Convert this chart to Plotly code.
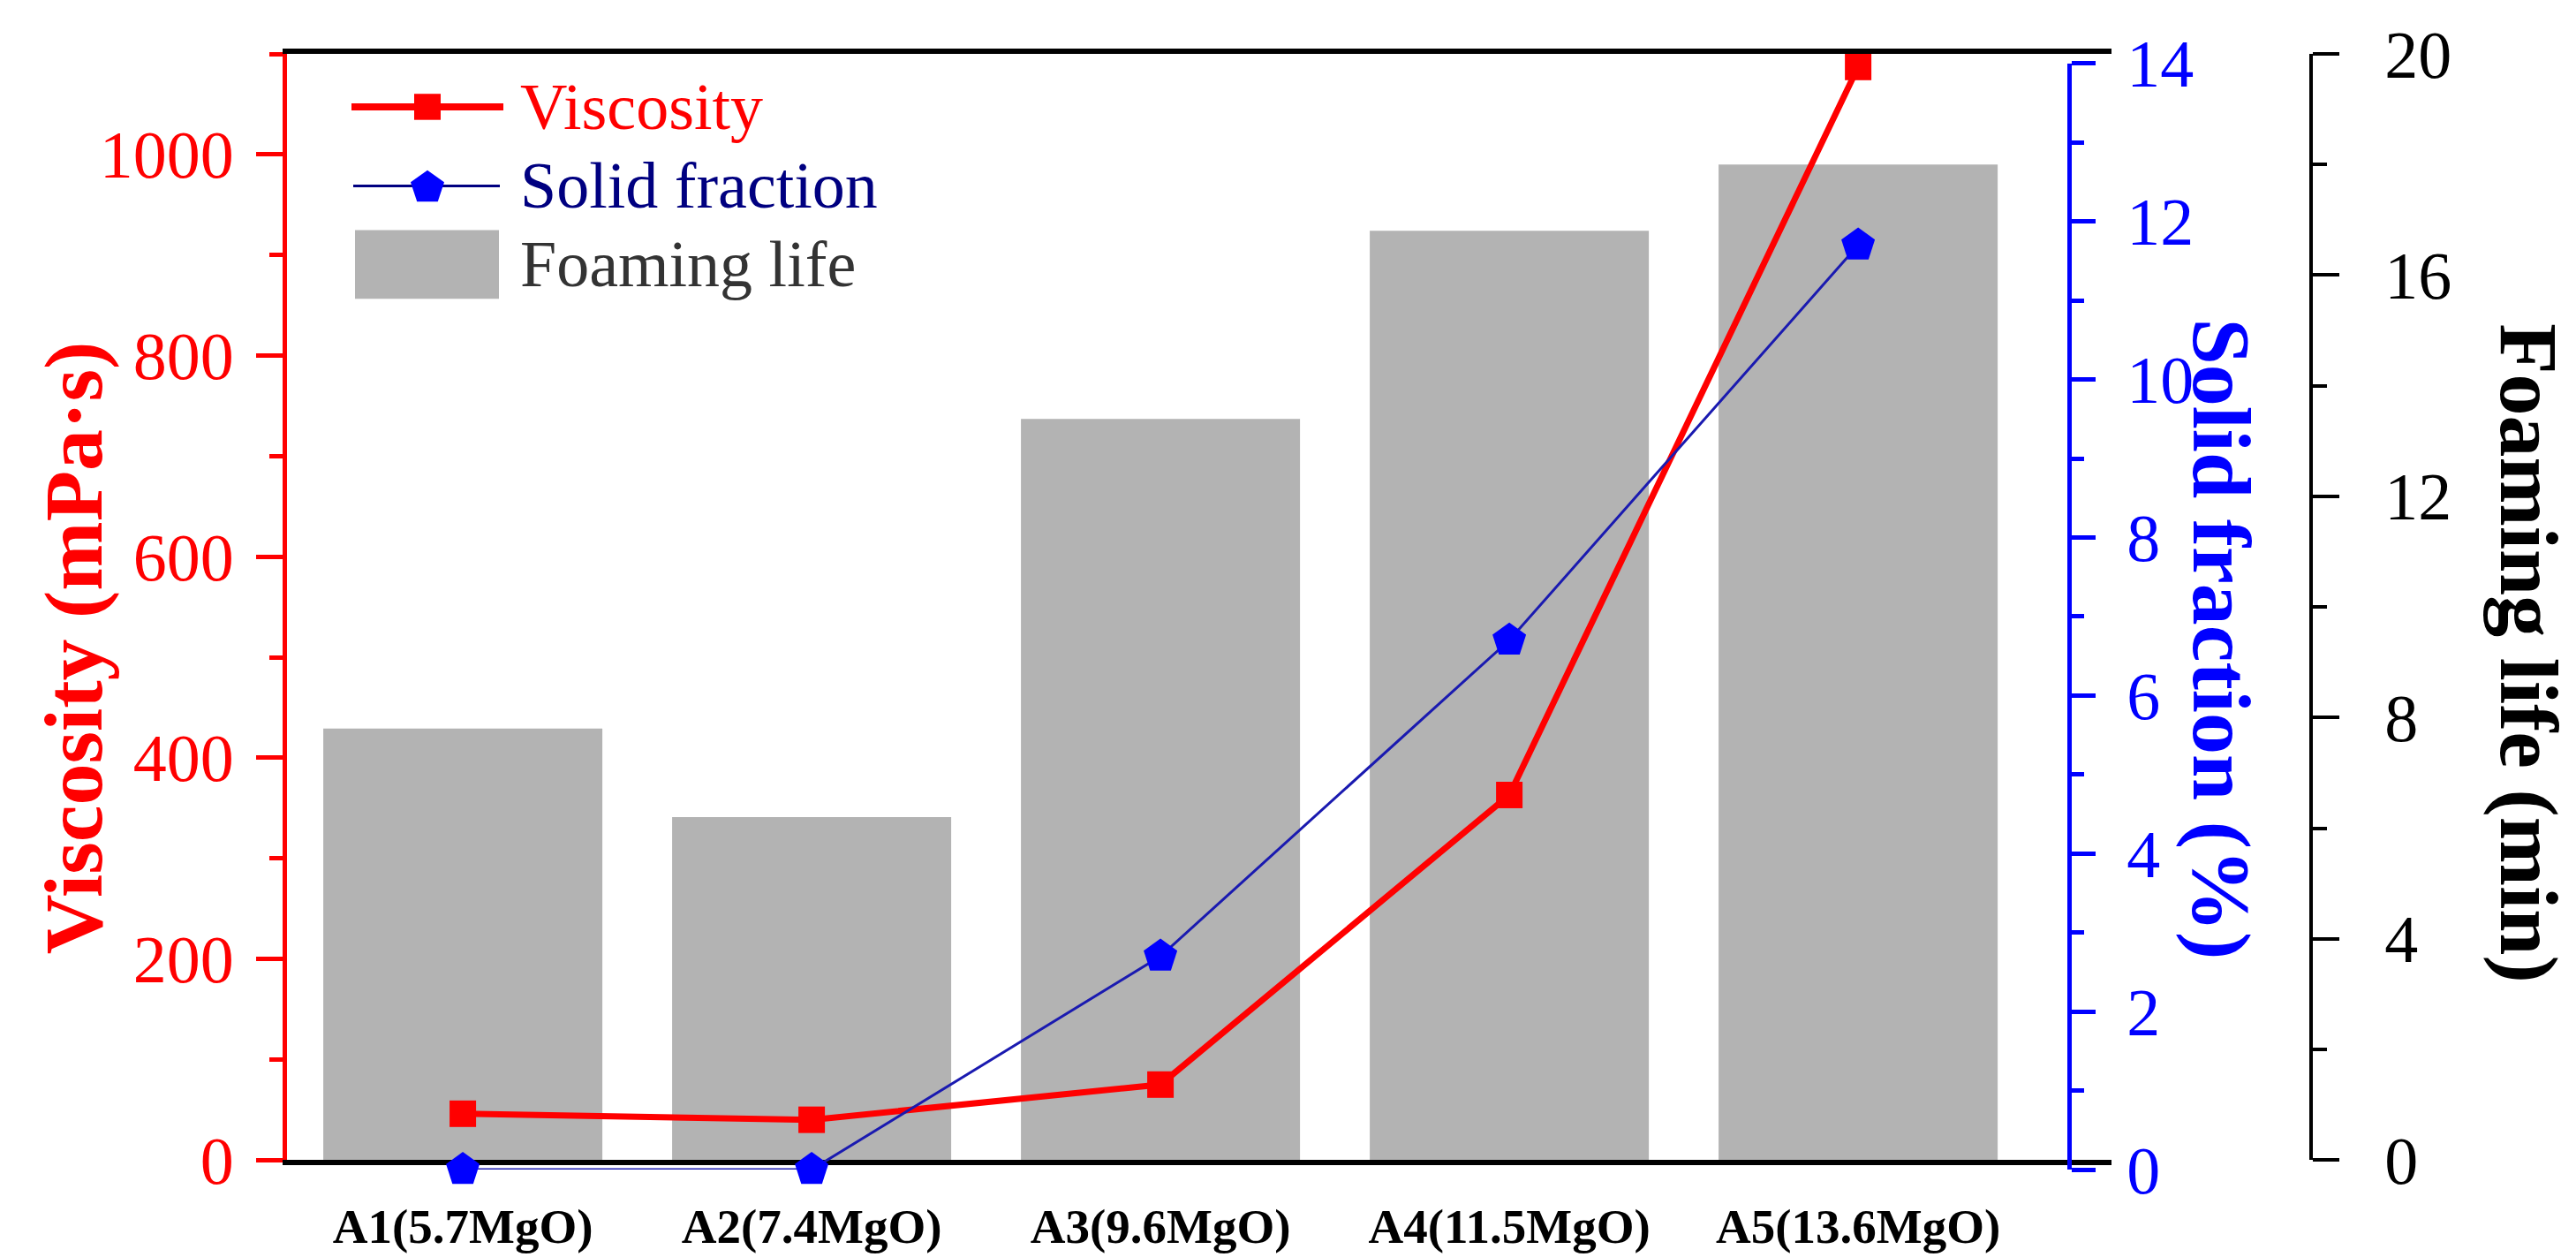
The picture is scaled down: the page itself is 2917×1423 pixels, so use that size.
import math
import plotly.graph_objects as go

# ---------------- data ----------------
categories = ["A1(5.7MgO)", "A2(7.4MgO)", "A3(9.6MgO)", "A4(11.5MgO)", "A5(13.6MgO)"]
viscosity = [46, 40, 75, 363, 1087]          # mPa·s
solid_fraction = [0, 0, 2.7, 6.7, 11.7]       # %
foaming_life = [7.8, 6.2, 13.4, 16.8, 18.0]   # min

# ---------------- layout constants (pixels) ----------------
W, H = 2917, 1423
L, R, T, B = 317, 2609, 49, 1334      # plot-area bounds
X_AXIS_END = 2335                     # position of the solid-fraction axis
X_LINE_END = 2383                     # black frame lines run slightly past it
CAT_STEP = 395.7                      # pixels per category
FONT = "Liberation Serif, Times New Roman, serif"


def px(x):
    return (x - L) / (R - L)


def py(y):
    return (B - y) / (B - T)


idx = list(range(len(categories)))
x_min = -0.504
x_max = 4.605 + (X_LINE_END - X_AXIS_END) / CAT_STEP

fig = go.Figure()
fig.add_trace(go.Bar(
    x=idx, y=foaming_life, width=0.8, name="Foaming life",
    marker=dict(color="#b3b3b3", line=dict(width=0)),
    xaxis="x", yaxis="y", showlegend=False))
fig.add_trace(go.Scatter(
    x=idx, y=viscosity, name="Viscosity", mode="lines+markers",
    line=dict(color="#ff0000", width=7),
    marker=dict(symbol="square", size=30, color="#ff0000"),
    xaxis="x", yaxis="y2", cliponaxis=False, showlegend=False))
fig.add_trace(go.Scatter(
    x=idx, y=solid_fraction, name="Solid fraction", mode="lines+markers",
    line=dict(color="#1a1ab0", width=3),
    marker=dict(symbol="pentagon", size=40, color="#0000ff"),
    xaxis="x", yaxis="y3", cliponaxis=False, showlegend=False))

fig.update_layout(
    width=W, height=H,
    margin=dict(l=L, r=W - R, t=T, b=H - B, pad=0),
    paper_bgcolor="white", plot_bgcolor="rgba(0,0,0,0)",
    font=dict(family=FONT),
    showlegend=False,
    xaxis=dict(
        domain=[0, px(X_LINE_END)], range=[x_min, x_max],
        tickvals=idx, ticktext=categories,
        showline=True, linecolor="black", linewidth=6, mirror=True,
        ticks="", showgrid=False, zeroline=False, anchor="y",
        tickfont=dict(family=FONT, size=55, color="black", weight="bold"),
        ticklabelstandoff=22),
    yaxis=dict(
        domain=[py(1323), 1], range=[0, 20],
        side="right", anchor="free", position=1.0,
        showline=True, linecolor="black", linewidth=4,
        ticks="outside", ticklen=30, tickwidth=4, tickcolor="black",
        tick0=0, dtick=4,
        minor=dict(ticks="outside", ticklen=16, tickwidth=4,
                   tickcolor="black", tick0=0, dtick=2),
        tickfont=dict(family=FONT, size=76, color="black"),
        showgrid=False, zeroline=False, ticklabelstandoff=36),
    yaxis2=dict(
        overlaying="y", side="left", anchor="x", range=[0, 1100],
        showline=True, linecolor="#ff0000", linewidth=5,
        ticks="outside", ticklen=30, tickwidth=5, tickcolor="#ff0000",
        tick0=0, dtick=200,
        minor=dict(ticks="outside", ticklen=15, tickwidth=5,
                   tickcolor="#ff0000", tick0=0, dtick=100),
        tickfont=dict(family=FONT, size=76, color="#ff0000"),
        showgrid=False, zeroline=False, ticklabelstandoff=10),
    yaxis3=dict(
        domain=[0, py(60)], range=[0, 14],
        anchor="free", position=px(X_AXIS_END), side="right",
        showline=True, linecolor="#0000ff", linewidth=5,
        ticks="outside", ticklen=27, tickwidth=5, tickcolor="#0000ff",
        tick0=0, dtick=2,
        minor=dict(ticks="outside", ticklen=14, tickwidth=5,
                   tickcolor="#0000ff", tick0=0, dtick=1),
        tickfont=dict(family=FONT, size=76, color="#0000ff"),
        showgrid=False, zeroline=False, ticklabelstandoff=20),
)

# ---------------- axis titles ----------------
annotations = [
    dict(text="Viscosity (mPa·s)", x=px(75), y=py(733), textangle=-90,
         font=dict(family=FONT, size=94, color="#ff0000", weight="bold")),
    dict(text="Solid fraction (%)", x=px(2508), y=py(723), textangle=90,
         font=dict(family=FONT, size=94, color="#0000ff", weight="bold")),
    dict(text="Foaming life (min)", x=px(2856), y=py(739), textangle=90,
         font=dict(family=FONT, size=94, color="black", weight="bold")),
]
for a in annotations:
    a.update(xref="paper", yref="paper", showarrow=False,
             xanchor="center", yanchor="middle")

# ---------------- legend (drawn) ----------------
LX, LY = -6, -6   # small offset for the whole legend block
leg_rows = [116, 207, 297]
leg_labels = ["Viscosity", "Solid fraction", "Foaming life"]
leg_colors = ["#ff0000", "#000080", "#333333"]
for yy, lab, col in zip(leg_rows, leg_labels, leg_colors):
    annotations.append(dict(
        text=lab, x=px(585 + LX), y=py(yy + LY), xref="paper", yref="paper",
        showarrow=False, xanchor="left", yanchor="middle",
        font=dict(family=FONT, size=74, color=col)))

shapes = []
# viscosity: line + square
shapes.append(dict(type="line", xref="paper", yref="paper",
                   x0=px(396 + LX), x1=px(568 + LX),
                   y0=py(116 + LY), y1=py(116 + LY),
                   line=dict(color="#ff0000", width=8)))
shapes.append(dict(type="rect", xref="paper", yref="paper",
                   x0=px(467 + LX), x1=px(497 + LX),
                   y0=py(131 + LY), y1=py(101 + LY),
                   fillcolor="#ff0000", line=dict(width=0)))
# solid fraction: line + pentagon
shapes.append(dict(type="line", xref="paper", yref="paper",
                   x0=px(398 + LX), x1=px(564 + LX),
                   y0=py(207 + LY), y1=py(207 + LY),
                   line=dict(color="#000080", width=3)))
cx, cy, r = 482 + LX, 209 + LY, 20
pts = []
for k in range(5):
    ang = math.radians(72 * k)
    pts.append((px(cx + r * math.sin(ang)), py(cy - r * math.cos(ang))))
path = "M " + " L ".join(f"{x:.5f},{y:.5f}" for x, y in pts) + " Z"
shapes.append(dict(type="path", xref="paper", yref="paper", path=path,
                   fillcolor="#0000ff", line=dict(width=0)))
# foaming life: gray box
shapes.append(dict(type="rect", xref="paper", yref="paper",
                   x0=px(400 + LX), x1=px(563 + LX),
                   y0=py(337 + LY), y1=py(258 + LY),
                   fillcolor="#b3b3b3", line=dict(width=0)))

fig.update_layout(annotations=annotations, shapes=shapes)

fig.write_html("out.html")
